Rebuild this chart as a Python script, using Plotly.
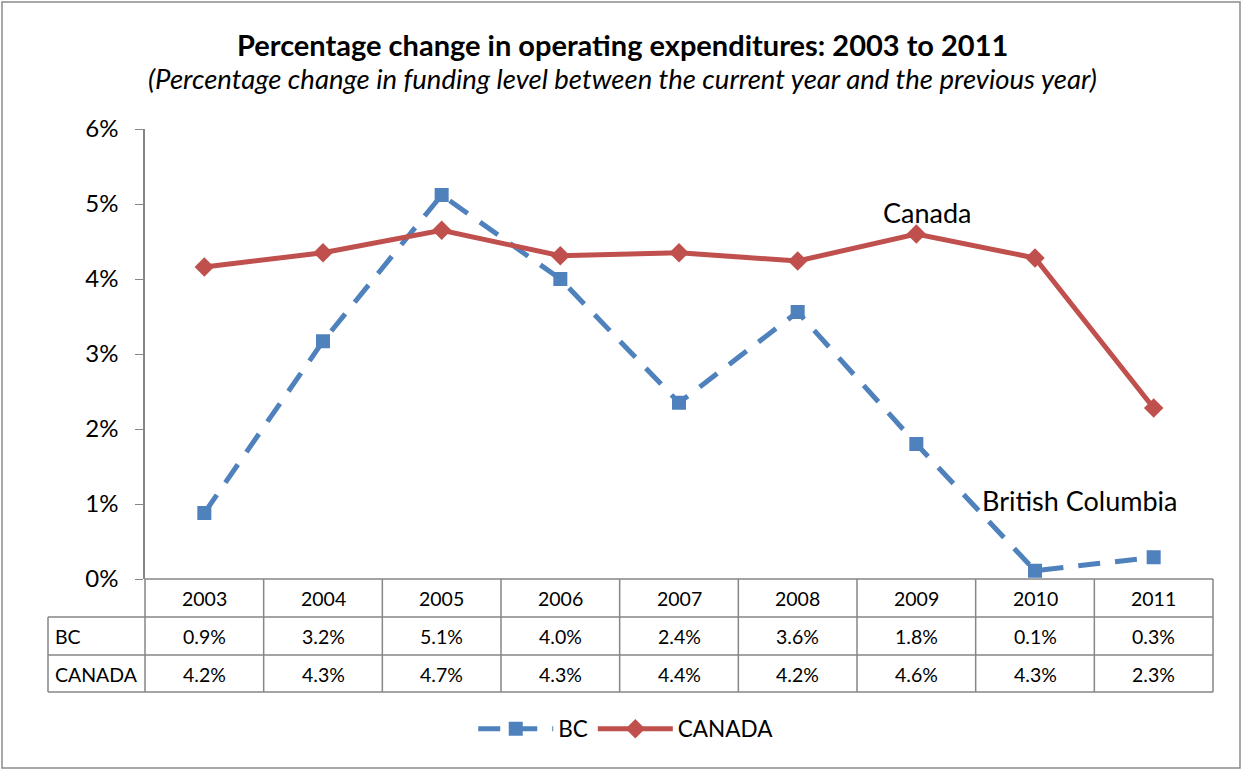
import plotly.graph_objects as go

years = ["2003", "2004", "2005", "2006", "2007", "2008", "2009", "2010", "2011"]
bc = [0.88, 3.17, 5.12, 4.00, 2.35, 3.56, 1.80, 0.11, 0.29]
canada = [4.16, 4.35, 4.65, 4.31, 4.35, 4.24, 4.60, 4.28, 2.28]
bc_labels = ["0.9%", "3.2%", "5.1%", "4.0%", "2.4%", "3.6%", "1.8%", "0.1%", "0.3%"]
canada_labels = ["4.2%", "4.3%", "4.7%", "4.3%", "4.4%", "4.2%", "4.6%", "4.3%", "2.3%"]
y_ticks = [0, 1, 2, 3, 4, 5, 6]
y_tick_text = ["0%", "1%", "2%", "3%", "4%", "5%", "6%"]

W, H = 1244, 771
FONT = "Lato, 'Open Sans', sans-serif"
BLUE = "#4F81BD"
RED = "#C0504D"
GRID = "#868686"

xd0, xd1 = 145 / W, 1213 / W
yd0, yd1 = 1 - 579 / H, 1 - 129 / H

def py(p):
    return 1 - p / H

def px(p):
    return p / W

fig = go.Figure()
fig.add_trace(go.Scatter(
    x=years, y=bc, name="BC", mode="lines+markers",
    line=dict(color=BLUE, width=5, dash="22px,15px"),
    marker=dict(symbol="square", size=14, color=BLUE),
))
fig.add_trace(go.Scatter(
    x=years, y=canada, name="CANADA", mode="lines+markers",
    line=dict(color=RED, width=5),
    marker=dict(symbol="diamond", size=15, color=RED),
))

shapes = []
shapes.append(dict(type="rect", xref="paper", yref="paper",
                   x0=px(2), x1=px(1240), y0=py(768), y1=py(2),
                   line=dict(color="#8C8C8C", width=1.5)))
row_y = [579, 617, 655, 692]
n = len(years)
for i in range(n + 1):
    xp = xd0 + i / n * (xd1 - xd0)
    shapes.append(dict(type="line", xref="paper", yref="paper",
                       x0=xp, x1=xp, y0=py(row_y[0]), y1=py(row_y[-1]),
                       line=dict(color=GRID, width=1.5)))
shapes.append(dict(type="line", xref="paper", yref="paper",
                   x0=px(48), x1=px(48), y0=py(row_y[1]), y1=py(row_y[-1]),
                   line=dict(color=GRID, width=1.5)))
shapes.append(dict(type="line", xref="paper", yref="paper",
                   x0=xd0, x1=xd1, y0=py(row_y[0]), y1=py(row_y[0]),
                   line=dict(color=GRID, width=1.5)))
for ry in row_y[1:]:
    shapes.append(dict(type="line", xref="paper", yref="paper",
                       x0=px(48), x1=xd1, y0=py(ry), y1=py(ry),
                       line=dict(color=GRID, width=1.5)))

annotations = []
tf = dict(family=FONT, size=19.5, color="black")
rows = [(years, 598), (bc_labels, 636), (canada_labels, 674)]
for labels, yc in rows:
    for i, t in enumerate(labels):
        annotations.append(dict(x=i, y=py(yc), xref="x", yref="paper", text=t,
                                showarrow=False, font=tf, xanchor="center", yanchor="middle"))
annotations.append(dict(x=px(53), y=py(636), xref="paper", yref="paper", text="BC",
                        showarrow=False, font=tf, xanchor="left", yanchor="middle"))
annotations.append(dict(x=px(53), y=py(674), xref="paper", yref="paper", text="CANADA",
                        showarrow=False, font=tf, xanchor="left", yanchor="middle"))
annotations.append(dict(x=6.09, y=4.88, xref="x", yref="y", text="Canada", showarrow=False,
                        font=dict(family=FONT, size=27, color="black"), xanchor="center", yanchor="middle"))
annotations.append(dict(x=7.38, y=1.05, xref="x", yref="y", text="British Columbia", showarrow=False,
                        font=dict(family=FONT, size=27, color="black"), xanchor="center", yanchor="middle"))
annotations.append(dict(x=0.5, y=py(44), xref="paper", yref="paper",
                        text="<b>Percentage change in operating expenditures: 2003 to 2011</b>",
                        showarrow=False, font=dict(family=FONT, size=29, color="black"),
                        xanchor="center", yanchor="middle"))
annotations.append(dict(x=0.5, y=py(79), xref="paper", yref="paper",
                        text="<i>(Percentage change in funding level between the current year and the previous year)</i>",
                        showarrow=False, font=dict(family=FONT, size=27.5, color="black"),
                        xanchor="center", yanchor="middle"))

fig.update_layout(
    template="none",
    width=W, height=H,
    autosize=False,
    margin=dict(l=0, r=0, t=0, b=0, pad=0, autoexpand=False),
    paper_bgcolor="white", plot_bgcolor="white",
    shapes=shapes, annotations=annotations,
    xaxis=dict(domain=[xd0, xd1], type="category", range=[-0.5, n - 0.5], automargin=False,
               showticklabels=False, showgrid=False, zeroline=False, showline=False, ticks=""),
    yaxis=dict(domain=[yd0, yd1], range=[0, 6], tickvals=y_ticks, ticktext=y_tick_text,
               automargin=False,
               showgrid=False, zeroline=False, showline=True, linecolor=GRID, linewidth=1.5,
               ticks="outside", ticklen=8, tickcolor=GRID, ticklabelstandoff=12,
               tickfont=dict(family=FONT, size=24, color="black")),
    legend=dict(orientation="h", x=0.503, xanchor="center", y=py(729), yanchor="middle",
                font=dict(family=FONT, size=22.5, color="black"), itemwidth=75,
                bgcolor="rgba(0,0,0,0)"),
    showlegend=True,
)

fig.write_html("out.html", config={"displayModeBar": False},
               post_script="document.body.style.margin='0';document.body.style.overflow='hidden';")
